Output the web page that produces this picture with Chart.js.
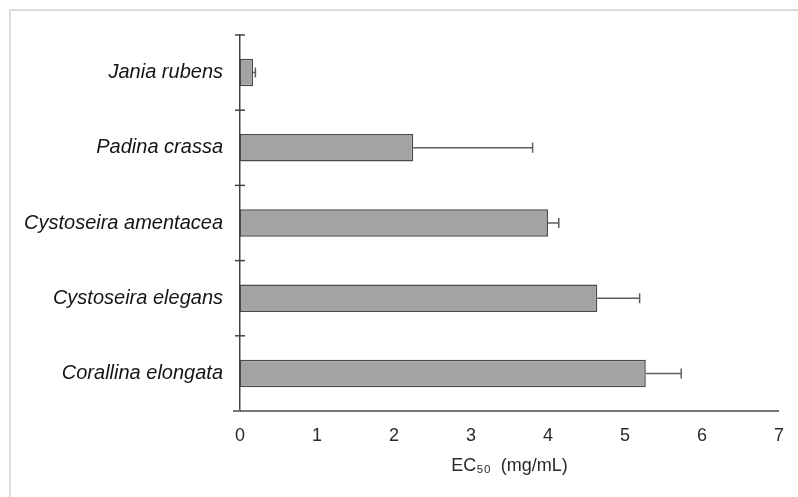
<!DOCTYPE html>
<html>
<head>
<meta charset="utf-8">
<script src="https://cdn.jsdelivr.net/npm/chart.js@4"></script>
<style>
  html, body { margin: 0; padding: 0; background: #fff; }
  #wrap { position: relative; width: 798px; height: 497px; }
</style>
</head>
<body>
<div id="wrap"><canvas id="ecChart" width="798" height="497"></canvas></div>
<script>
// EC50 values per species (mg/mL)
const species = ['Jania rubens', 'Padina crassa', 'Cystoseira amentacea', 'Cystoseira elegans', 'Corallina elongata'];
const ec50 = [0.17, 2.25, 4.0, 4.64, 5.27];
const ec50Err = [0.03, 1.55, 0.14, 0.55, 0.46];
const xTicks = [0, 1, 2, 3, 4, 5, 6, 7];

// light grey frame (top + left only visible in the original)
const framePlugin = {
    id: 'frame',
    beforeDraw(chart) {
        const ctx = chart.ctx;
        ctx.save();
        ctx.fillStyle = '#dcdcdc';
        ctx.fillRect(9, 9, chart.width - 9, 2);
        ctx.fillRect(9, 9, 2, chart.height - 9);
        ctx.restore();
    }
};

// one-sided error bars + category boundary ticks on the y axis
const errorBarPlugin = {
    id: 'errorBars',
    afterDatasetsDraw(chart) {
        const ctx = chart.ctx;
        const xScale = chart.scales.x;
        const meta = chart.getDatasetMeta(0);
        ctx.save();
        ctx.strokeStyle = '#5e5e5e';
        ctx.lineWidth = 1.5;
        meta.data.forEach((bar, i) => {
            const x0 = xScale.getPixelForValue(ec50[i]);
            const x1 = xScale.getPixelForValue(ec50[i] + ec50Err[i]);
            const y = bar.y;
            ctx.beginPath();
            ctx.moveTo(x0, y);
            ctx.lineTo(x1, y);
            ctx.moveTo(x1, y - 5);
            ctx.lineTo(x1, y + 5);
            ctx.stroke();
        });
        ctx.restore();
    },
    afterDraw(chart) {
        const ctx = chart.ctx;
        const area = chart.chartArea;
        const n = species.length;
        ctx.save();
        ctx.strokeStyle = '#444';
        ctx.lineWidth = 1.5;
        for (let i = 0; i < n; i++) {
            const y = area.top + i * (area.bottom - area.top) / n;
            ctx.beginPath();
            ctx.moveTo(area.left - 5, y);
            ctx.lineTo(area.left + 5, y);
            ctx.stroke();
        }
        // x axis line runs a little past the y axis
        ctx.strokeStyle = '#777';
        ctx.lineWidth = 2;
        ctx.beginPath();
        ctx.moveTo(area.left - 7, area.bottom);
        ctx.lineTo(area.left, area.bottom);
        ctx.stroke();
        ctx.restore();
    }
};

const ctx = document.getElementById('ecChart').getContext('2d');
const ecChart = new Chart(ctx, {
    type: 'bar',
    data: {
        labels: species,
        datasets: [{
            label: 'EC50',
            data: ec50,
            backgroundColor: '#a3a3a3',
            borderColor: '#4a4a4a',
            borderWidth: 1.5,
            borderSkipped: false,
            categoryPercentage: 1,
            barPercentage: 0.366
        }]
    },
    options: {
        indexAxis: 'y',
        responsive: false,
        animation: false,
        layout: {
            padding: { top: 35, right: 18, left: 0, bottom: 0 }
        },
        plugins: {
            legend: { display: false },
            tooltip: { enabled: false }
        },
        scales: {
            x: {
                type: 'linear',
                min: 0,
                max: 7,
                afterBuildTicks: (scale) => {
                    scale.ticks = xTicks.map(v => ({ value: v }));
                },
                afterFit: (scale) => { scale.height = 86; },
                grid: { display: false, drawTicks: false },
                border: { display: true, color: '#777', width: 2 },
                ticks: {
                    padding: 14,
                    color: '#2a2a2a',
                    font: { family: 'Liberation Sans, Arial, sans-serif', size: 18 }
                },
                title: {
                    display: true,
                    text: 'EC₅₀  (mg/mL)',
                    color: '#2a2a2a',
                    padding: { top: 4, bottom: 20 },
                    font: { family: 'Liberation Sans, Arial, sans-serif', size: 18 }
                }
            },
            y: {
                afterFit: (scale) => { scale.width = 240; },
                grid: { display: false, drawTicks: false },
                border: { display: true, color: '#444', width: 1.5 },
                ticks: {
                    padding: 17,
                    color: '#151515',
                    font: { family: 'Liberation Sans, Arial, sans-serif', size: 20, style: 'italic' }
                }
            }
        }
    },
    plugins: [framePlugin, errorBarPlugin]
});
</script>
</body>
</html>
